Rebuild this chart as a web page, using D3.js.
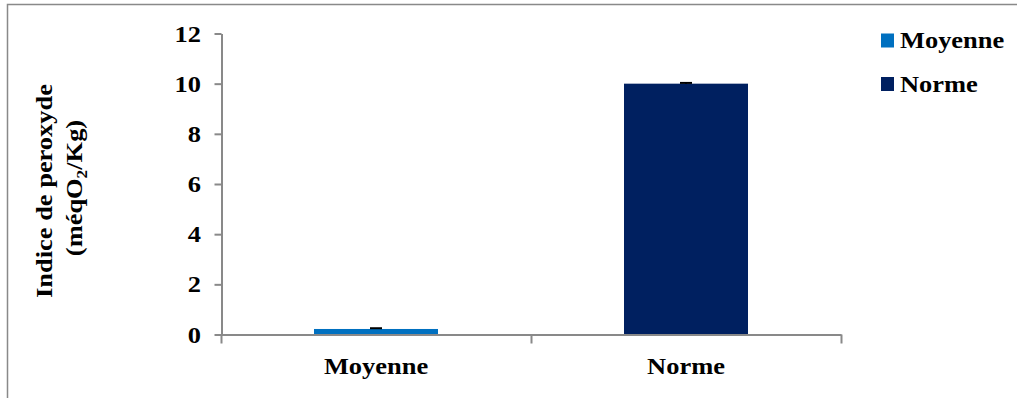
<!DOCTYPE html>
<html><head><meta charset="utf-8">
<script src="https://cdn.jsdelivr.net/npm/d3@7"></script>
<style>
body{margin:0;background:#fff;}
text{font-family:"Liberation Serif","Times New Roman",serif;font-weight:bold;fill:#000;}
</style></head>
<body><svg id="c" width="1017" height="398"></svg>
<script>
const categories = ["Moyenne", "Norme"];
const values = [0.22, 10];
const errors = [0.03, 0.03];
const colors = ["#0070C0", "#002060"];
const yTicks = [0, 2, 4, 6, 8, 10, 12];

const svg = d3.select("#c");
const SX = 1.15, FS = 23, axisCol = "#898989";

// outer frame (cropped at right/bottom)
svg.append("rect").attr("x", 7.5).attr("y", 4.5).attr("width", 1200).attr("height", 600)
  .attr("fill", "none").attr("stroke", axisCol).attr("stroke-width", 1.5);

const x = d3.scaleBand().domain(categories).range([221, 841]).paddingInner(0.6).paddingOuter(0.3);
const y = d3.scaleLinear().domain([0, 12]).range([334.5, 33.5]);

// bars
svg.selectAll("rect.bar").data(categories).enter().append("rect")
  .attr("x", d => x(d)).attr("width", x.bandwidth())
  .attr("y", (d, i) => y(values[i])).attr("height", (d, i) => y(0) - y(values[i]))
  .attr("fill", (d, i) => colors[i]);

// error bars
categories.forEach((c, i) => {
  const cx = x(c) + x.bandwidth() / 2;
  const g = svg.append("g").attr("stroke", "#000").attr("stroke-width", 2);
  g.append("line").attr("x1", cx).attr("x2", cx).attr("y1", y(values[i] + errors[i])).attr("y2", y(values[i]));
  g.append("line").attr("x1", cx - 6).attr("x2", cx + 6).attr("y1", y(values[i] + errors[i])).attr("y2", y(values[i] + errors[i]));
});

// y axis
const ya = svg.append("g").attr("transform", "translate(221.5,0)")
  .call(d3.axisLeft(y).tickValues(yTicks).tickSize(7).tickSizeOuter(0).tickFormat(""));
ya.select(".domain").attr("stroke", axisCol).attr("stroke-width", 2);
ya.selectAll(".tick line").attr("stroke", axisCol).attr("stroke-width", 2);
ya.selectAll(".tick text").remove();
yTicks.forEach(v => {
  svg.append("text").attr("transform", `translate(201,${y(v) + 8}) scale(${SX},1)`)
    .attr("text-anchor", "end").attr("font-size", FS).text(v);
});

// x axis
const xr = x.range();
const bounds = d3.range(categories.length + 1).map(i => xr[0] + i * x.step());
const xlin = d3.scaleLinear().domain([xr[0], xr[1]]).range(xr);
const xa = svg.append("g").attr("transform", `translate(0,${y(0)})`)
  .call(d3.axisBottom(xlin).tickValues(bounds).tickSize(9).tickSizeOuter(0).tickFormat(""));
xa.select(".domain").attr("stroke", axisCol).attr("stroke-width", 2);
xa.selectAll(".tick line").attr("stroke", axisCol).attr("stroke-width", 2);
categories.forEach(c => {
  svg.append("text").attr("transform", `translate(${x(c) + x.bandwidth() / 2},374) scale(${SX},1)`)
    .attr("text-anchor", "middle").attr("font-size", FS).text(c);
});

// y title
const t1 = svg.append("text").attr("transform", `translate(52,191) rotate(-90) scale(${SX},1)`)
  .attr("text-anchor", "middle").attr("font-size", FS).text("Indice de peroxyde");
const t2 = svg.append("text").attr("transform", `translate(82,188) rotate(-90) scale(${SX},1)`)
  .attr("text-anchor", "middle").attr("font-size", FS);
t2.append("tspan").text("(méqO");
t2.append("tspan").attr("font-size", 15).attr("dy", 5).text("2");
t2.append("tspan").attr("dy", -5).text("/Kg)");

// legend
const ly = [33.5, 77];
categories.forEach((c, i) => {
  svg.append("rect").attr("x", 881).attr("y", ly[i]).attr("width", 13).attr("height", 14).attr("fill", colors[i]);
  svg.append("text").attr("transform", `translate(900,${ly[i] + 14.5}) scale(${SX},1)`)
    .attr("font-size", FS).text(c);
});
</script></body></html>
